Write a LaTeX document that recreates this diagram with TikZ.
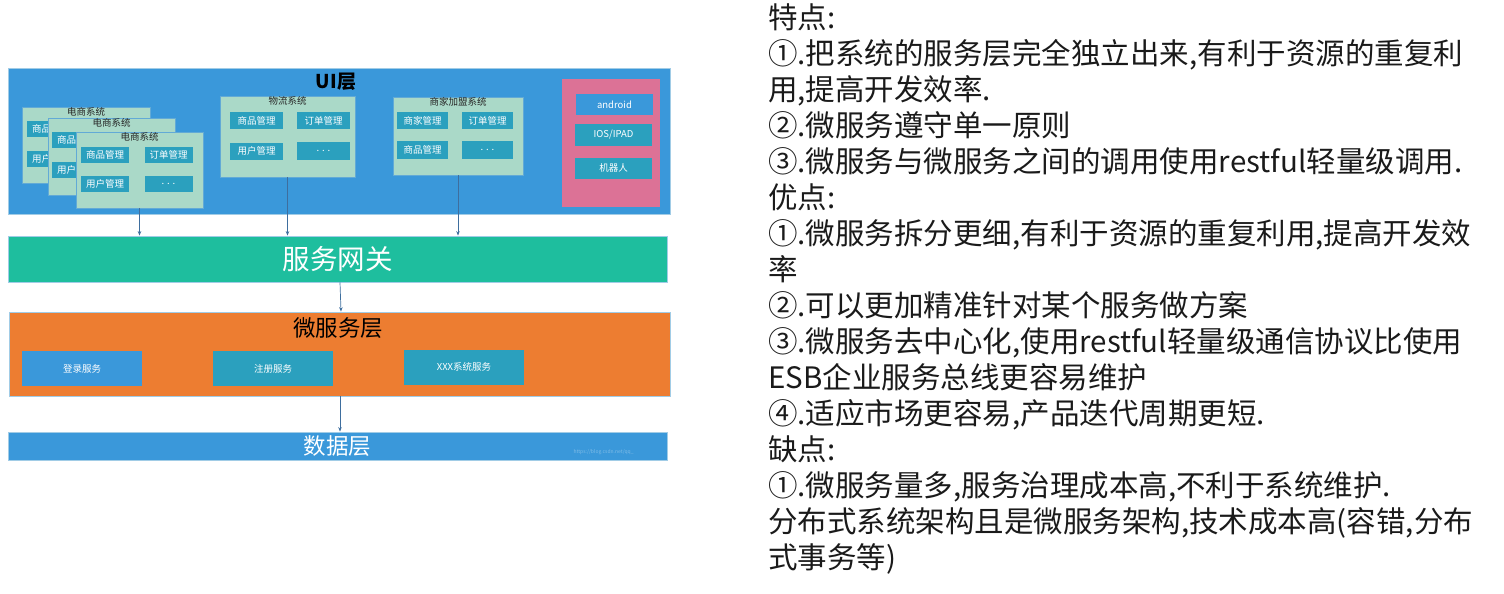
\documentclass[tikz,border=0pt]{standalone}
\usepackage{fontspec}
\setmainfont{Noto Sans CJK SC}
\usetikzlibrary{arrows.meta}

\definecolor{uiblue}{HTML}{3A98DA}
\definecolor{gwgreen}{HTML}{1EBE9E}
\definecolor{msorange}{HTML}{ED7D31}
\definecolor{pinkbox}{HTML}{DC7296}
\definecolor{sysgreen}{HTML}{AAD9C8}
\definecolor{sysedge}{HTML}{62AAD6}
\definecolor{cellteal}{HTML}{2BA0BE}
\definecolor{linkblue}{HTML}{3E6E9E}
\definecolor{notetext}{HTML}{1A1A1A}

\tikzset{
  layer/.style={fill=#1, draw=sysedge!60!white, line width=0.8pt, inner sep=0pt},
  sysbox/.style={fill=sysgreen, draw=sysedge, line width=0.8pt, inner sep=0pt},
  cell/.style={fill=#1, text=white, inner sep=0pt,
    font=\fontsize{9.5}{10}\selectfont},
  cell/.default=cellteal,
  systitle/.style={anchor=north, inner sep=1pt, text=black!85,
    font=\fontsize{9.5}{10}\selectfont},
  link/.style={draw=linkblue, line width=0.7pt,
    -{Stealth[length=4.5pt,width=3.5pt]}},
  noteline/.style={anchor=west, inner sep=0pt, text=notetext,
    text height=0.88em, text depth=0.12em,
    font=\fontsize{29.5}{36}\selectfont}
}

\begin{document}
\begin{tikzpicture}[x=1pt,y=-1pt]
  \useasboundingbox (0,0) rectangle (1504,594);

  % UI layer
  \node[layer=uiblue, minimum width=662pt, minimum height=146pt] (ui) at (339,141) {};
  \node[font=\bfseries\fontsize{19}{20}\selectfont] (uilabel) at (336,82) {UI层};

  % stacked shop systems
  \node[sysbox, minimum width=128pt, minimum height=76pt] (ds1) at (86,145) {};
  \node[systitle] (ds1t) at (ds1.north) {电商系统};
  \node[cell, minimum width=48pt, minimum height=16pt] (ds1a) at (51,129) {商品管理};
  \node[cell, minimum width=48pt, minimum height=16pt] (ds1b) at (51,159) {用户管理};

  \node[sysbox, minimum width=127pt, minimum height=77pt] (ds2) at (111.5,156.5) {};
  \node[systitle] (ds2t) at (ds2.north) {电商系统};
  \node[cell, minimum width=48pt, minimum height=16pt] (ds2a) at (76,140) {商品管理};
  \node[cell, minimum width=48pt, minimum height=16pt] (ds2b) at (76,170) {用户管理};

  \node[sysbox, minimum width=127pt, minimum height=76pt] (ds3) at (139.5,170) {};
  \node[systitle] (ds3t) at (ds3.north) {电商系统};
  \node[cell, minimum width=48pt, minimum height=16pt] (ds3a) at (105,155) {商品管理};
  \node[cell, minimum width=48pt, minimum height=16pt] (ds3b) at (168.5,155) {订单管理};
  \node[cell, minimum width=48pt, minimum height=16pt] (ds3c) at (105,184) {用户管理};
  \node[cell, minimum width=48pt, minimum height=16pt] (ds3d) at (168.5,184) {. . .};

  % logistics
  \node[sysbox, minimum width=135pt, minimum height=81pt] (wl) at (287.5,136.5) {};
  \node[systitle] (wlt) at (wl.north) {物流系统};
  \node[cell, minimum width=53pt, minimum height=17pt] (wla) at (256.5,120.5) {商品管理};
  \node[cell, minimum width=53pt, minimum height=17pt] (wlb) at (323.5,120.5) {订单管理};
  \node[cell, minimum width=53pt, minimum height=17pt] (wlc) at (256.5,151) {用户管理};
  \node[cell, minimum width=53pt, minimum height=18pt] (wld) at (323.5,150.5) {. . .};

  % merchants
  \node[sysbox, minimum width=130pt, minimum height=78pt] (sj) at (458,136) {};
  \node[systitle] (sjt) at (sj.north) {商家加盟系统};
  \node[cell, minimum width=51pt, minimum height=17pt] (sja) at (422.5,120.5) {商家管理};
  \node[cell, minimum width=51pt, minimum height=17pt] (sjb) at (487.5,120.5) {订单管理};
  \node[cell, minimum width=51pt, minimum height=18pt] (sjc) at (422.5,150) {商品管理};
  \node[cell, minimum width=51pt, minimum height=18pt] (sjd) at (487.5,150) {. . .};

  % clients
  \node[fill=pinkbox, inner sep=0pt, minimum width=98pt, minimum height=128pt] (cl) at (611,143) {};
  \node[cell=uiblue, minimum width=77pt, minimum height=21pt] (cla) at (614.5,104.5) {android};
  \node[cell, minimum width=77pt, minimum height=22pt] (clb) at (613.5,135) {IOS/IPAD};
  \node[cell, minimum width=77pt, minimum height=21pt] (clc) at (613.5,168) {机器人};

  % gateway
  \node[layer=gwgreen, minimum width=659pt, minimum height=46pt, text=white,
    font=\fontsize{27.5}{28}\selectfont] (gw) at (337.5,259) {服务网关};

  % micro services
  \node[layer=msorange, minimum width=661pt, minimum height=84pt] (ms) at (339.5,354) {};
  \node[font=\fontsize{22.5}{23}\selectfont] (mslabel) at (338,328) {微服务层};
  \node[cell=uiblue, minimum width=120pt, minimum height=35pt] (msa) at (82,368.5) {登录服务};
  \node[cell, minimum width=120pt, minimum height=35pt] (msb) at (273,368.5) {注册服务};
  \node[cell, minimum width=120pt, minimum height=35pt] (msc) at (464,367) {XXX系统服务};

  % data layer
  \node[layer=uiblue, minimum width=659pt, minimum height=28pt, text=white,
    font=\fontsize{22.5}{23}\selectfont] (db) at (337.5,446) {数据层};
  \node[text=white, opacity=0.35, font=\fontsize{5}{6}\selectfont, anchor=west] (wm) at (570,452) {https://blog.csdn.net/qq\_};

  % connectors
  \draw[link] (ds3.south) -- (ds3.south |- gw.north);
  \draw[link] (wl.south) -- (wl.south |- gw.north);
  \draw[link] (sj.south) -- (sj.south |- gw.north);
  \draw[link] ([xshift=2.5pt]gw.south) -- ([xshift=1.5pt]ms.north);
  \draw[link] ([xshift=0.5pt]ms.south) -- ([xshift=2.5pt]db.north);

  % notes on the right
  \foreach \txt [count=\i] in {
    {特点:},
    {①.把系统的服务层完全独立出来,有利于资源的重复利},
    {用,提高开发效率.},
    {②.微服务遵守单一原则},
    {③.微服务与微服务之间的调用使用restful轻量级调用.},
    {优点:},
    {①.微服务拆分更细,有利于资源的重复利用,提高开发效},
    {率},
    {②.可以更加精准针对某个服务做方案},
    {③.微服务去中心化,使用restful轻量级通信协议比使用},
    {ESB企业服务总线更容易维护},
    {④.适应市场更容易,产品迭代周期更短.},
    {缺点:},
    {①.微服务量多,服务治理成本高,不利于系统维护.},
    {分布式系统架构且是微服务架构,技术成本高(容错,分布},
    {式事务等)}}
    \node[noteline] (note\i) at (768,{25+36*(\i-1)}) {\txt};
\end{tikzpicture}
\end{document}
